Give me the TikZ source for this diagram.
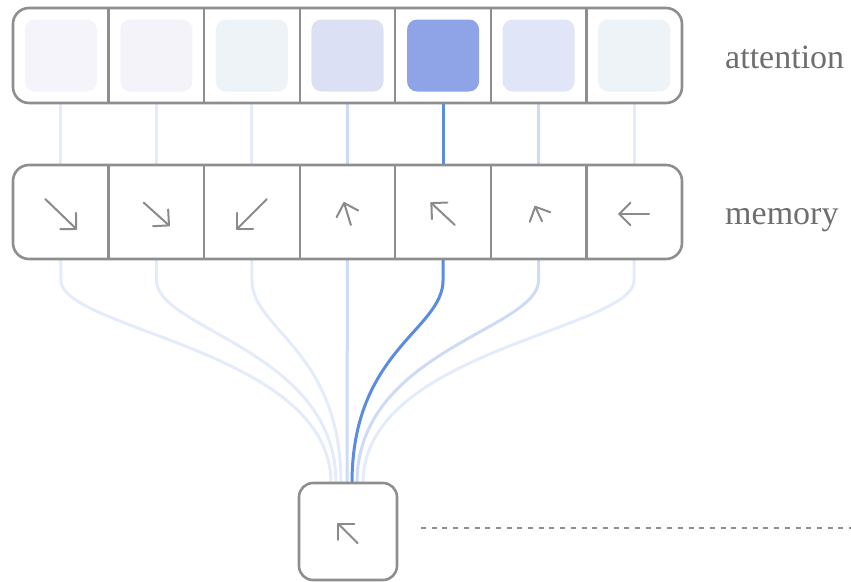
\documentclass[tikz,border=0pt]{standalone}
\usepackage{fontspec}
\setmainfont{Liberation Serif}
\usetikzlibrary{calc}

\definecolor{framegray}{HTML}{8E8E8E}
\definecolor{inkgray}{HTML}{8A8A8A}
\definecolor{labelgray}{HTML}{6E6E6E}
\definecolor{hot}{HTML}{5A8CE2}
\definecolor{warm}{HTML}{CDDBF6}
\definecolor{cool}{HTML}{E4EBFA}
\definecolor{wA}{HTML}{F4F4FA}
\definecolor{wB}{HTML}{F3F3F9}
\definecolor{wC}{HTML}{EEF3F8}
\definecolor{wD}{HTML}{DCE0F5}
\definecolor{wE}{HTML}{8EA4E6}
\definecolor{wF}{HTML}{E0E5F8}
\definecolor{wG}{HTML}{EEF3F8}

\tikzset{
  slot/.style={minimum width=95.57pt, minimum height=95pt, inner sep=0pt, outer sep=0pt},
  frame/.style={draw=framegray, line width=2.6pt, rounded corners=16pt},
  divider/.style={draw=framegray, line width=2.2pt},
  weight/.style={minimum size=72pt, inner sep=0pt, rounded corners=10pt},
  link/.style={line width=3pt},
  vec/.style={draw=inkgray, line width=2pt, line cap=round, line join=round},
  lab/.style={text=labelgray, font=\fontsize{34}{40}\selectfont, inner sep=0pt, anchor=base west},
  queryslot/.style={minimum width=98pt, minimum height=97pt, inner sep=0pt, outer sep=0pt},
  queryframe/.style={draw=framegray, line width=2.6pt, rounded corners=14pt},
  leader/.style={draw=framegray, line width=1.6pt, dash pattern=on 5pt off 5.7pt}
}

% shaft centred a little below the anchor, heading #2 (clockwise from east), length #3
\newcommand\vecarrow[3]{%
  \path ($(#1)+(0,2)+(#2+180:#3/2)$) coordinate (vtail)
        ($(#1)+(0,2)+(#2:#3/2)$) coordinate (vtip);
  \draw[vec] (vtail) -- (vtip);
  \draw[vec] ($(vtip)+(#2+135:16)$) -- (vtip) -- ($(vtip)+(#2-135:16)$);
}

\begin{document}
\begin{tikzpicture}[x=1pt, y=-1pt]
\useasboundingbox (0,0) rectangle (851,581);

% cells of the two rows and the query box
\foreach \i in {1,...,7} {
  \node[slot] (a\i) at ({13+95.57*(\i-0.5)},55.5) {};
  \node[slot, minimum height=94pt] (m\i) at ({13+95.57*(\i-0.5)},212) {};
}
\node[queryslot] (q) at (348,531.5) {};

% links: attention -> memory -> query
\foreach \i/\c/\dx in {1/cool/-17,2/cool/-12,3/cool/-7,4/warm/-1,6/warm/9,7/cool/15,5/hot/4} {
  \draw[link, \c] (a\i.south) -- (m\i.north);
  \draw[link, \c] (m\i.south) -- ++(0,21)
     .. controls +(0,50) and +(0,-133) .. ($(q.north)+(\dx,0)$);
}

% attention row
\foreach \i/\w in {1/wA,2/wB,3/wC,4/wD,5/wE,6/wF,7/wG}
  \node[weight, fill=\w] (w\i) at (a\i) {};
\draw[frame] (a1.north west) rectangle (a7.south east);
\foreach \i in {1,...,6}
  \draw[divider] (a\i.north east) -- (a\i.south east);

% memory row
\draw[frame] (m1.north west) rectangle (m7.south east);
\foreach \i in {1,...,6}
  \draw[divider] (m\i.north east) -- (m\i.south east);

\vecarrow{m1}{44}{43}
\vecarrow{m2}{42}{34}
\vecarrow{m3}{135}{42}
\vecarrow{m4}{253}{23}
\vecarrow{m5}{223}{32}
\vecarrow{m6}{245}{16}
\vecarrow{m7}{180}{30}

% query
\draw[queryframe] (q.north west) rectangle (q.south east);
\vecarrow{q}{225}{27}

% labels and leader
\node[lab] (attlabel) at (725,68) {attention};
\node[lab] (memlabel) at (725,224) {memory};
\coordinate (leadstart) at (421,528);
\coordinate (leadend) at (851,528);
\draw[leader] (leadstart) -- (leadend);
\end{tikzpicture}
\end{document}
